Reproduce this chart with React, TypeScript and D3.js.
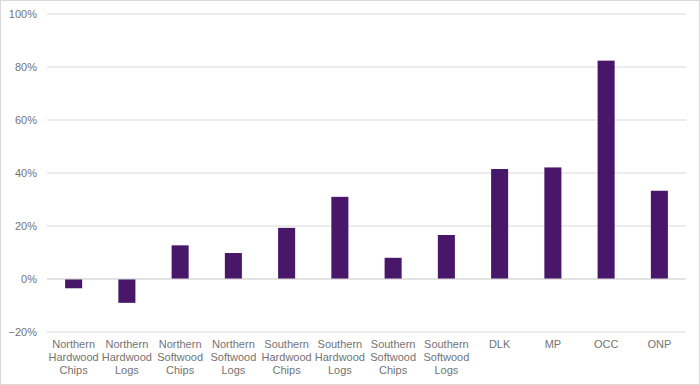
import * as d3 from "d3";
import React from "react";

const width = 700;
const height = 385;
const margin = { top: 14, right: 14, bottom: 54, left: 47 };

const categories = [
  "Northern Hardwood Chips",
  "Northern Hardwood Logs",
  "Northern Softwood Chips",
  "Northern Softwood Logs",
  "Southern Hardwood Chips",
  "Southern Hardwood Logs",
  "Southern Softwood Chips",
  "Southern Softwood Logs",
  "DLK",
  "MP",
  "OCC",
  "ONP",
];
const values = [-3.5, -9, 12.7, 9.8, 19.3, 31, 8, 16.6, 41.5, 42.1, 82.4, 33.3];
const yTicks = [-20, 0, 20, 40, 60, 80, 100];

const barColor = "#481769";
const gridColor = "#d9d9d9";
const textColor = "#737373";
const font = "Liberation Sans, Arial, sans-serif";

const App = () => {
  const xScale = d3
    .scaleBand()
    .domain(categories)
    .range([margin.left, width - margin.right])
    .paddingInner(0.68)
    .paddingOuter(0.34);

  const yScale = d3
    .scaleLinear()
    .domain([-20, 100])
    .range([height - margin.bottom + 1, margin.top]);

  const zero = yScale(0);

  return (
    <>
      <style>{"body{margin:0}"}</style>
      <svg width={width} height={height} style={{ display: "block" }}>
        <rect
          x={0.5}
          y={0.5}
          width={width - 1}
          height={height - 1}
          fill="#fff"
          stroke={gridColor}
        />
        {/* gridlines + y labels */}
        {yTicks.map((t) => (
          <g key={t}>
            <line
              x1={margin.left}
              x2={width - margin.right}
              y1={yScale(t)}
              y2={yScale(t)}
              stroke={gridColor}
              strokeWidth={1}
            />
            <text
              x={margin.left - 10}
              y={yScale(t)}
              dy="0.35em"
              textAnchor="end"
              fontFamily={font}
              fontSize={11}
              fill={textColor}
            >
              {d3.format("d")(t) + "%"}
            </text>
          </g>
        ))}
        {/* bars */}
        {categories.map((c, i) => {
          const v = values[i];
          const y0 = yScale(Math.max(0, v));
          const y1 = yScale(Math.min(0, v));
          return (
            <rect
              key={c}
              x={xScale(c)}
              y={y0}
              width={xScale.bandwidth()}
              height={y1 - y0}
              fill={barColor}
            />
          );
        })}
        <line
          x1={margin.left}
          x2={width - margin.right}
          y1={zero}
          y2={zero}
          stroke={gridColor}
        />
        {/* category labels */}
        {categories.map((c) => {
          const words = c.split(" ");
          const cx = (xScale(c) ?? 0) + xScale.bandwidth() / 2;
          return (
            <text
              key={c}
              x={cx}
              y={348}
              textAnchor="middle"
              fontFamily={font}
              fontSize={11}
              fill={textColor}
            >
              {words.map((w, j) => (
                <tspan key={j} x={cx} dy={j === 0 ? 0 : 13}>
                  {w}
                </tspan>
              ))}
            </text>
          );
        })}
      </svg>
    </>
  );
};

export default App;
